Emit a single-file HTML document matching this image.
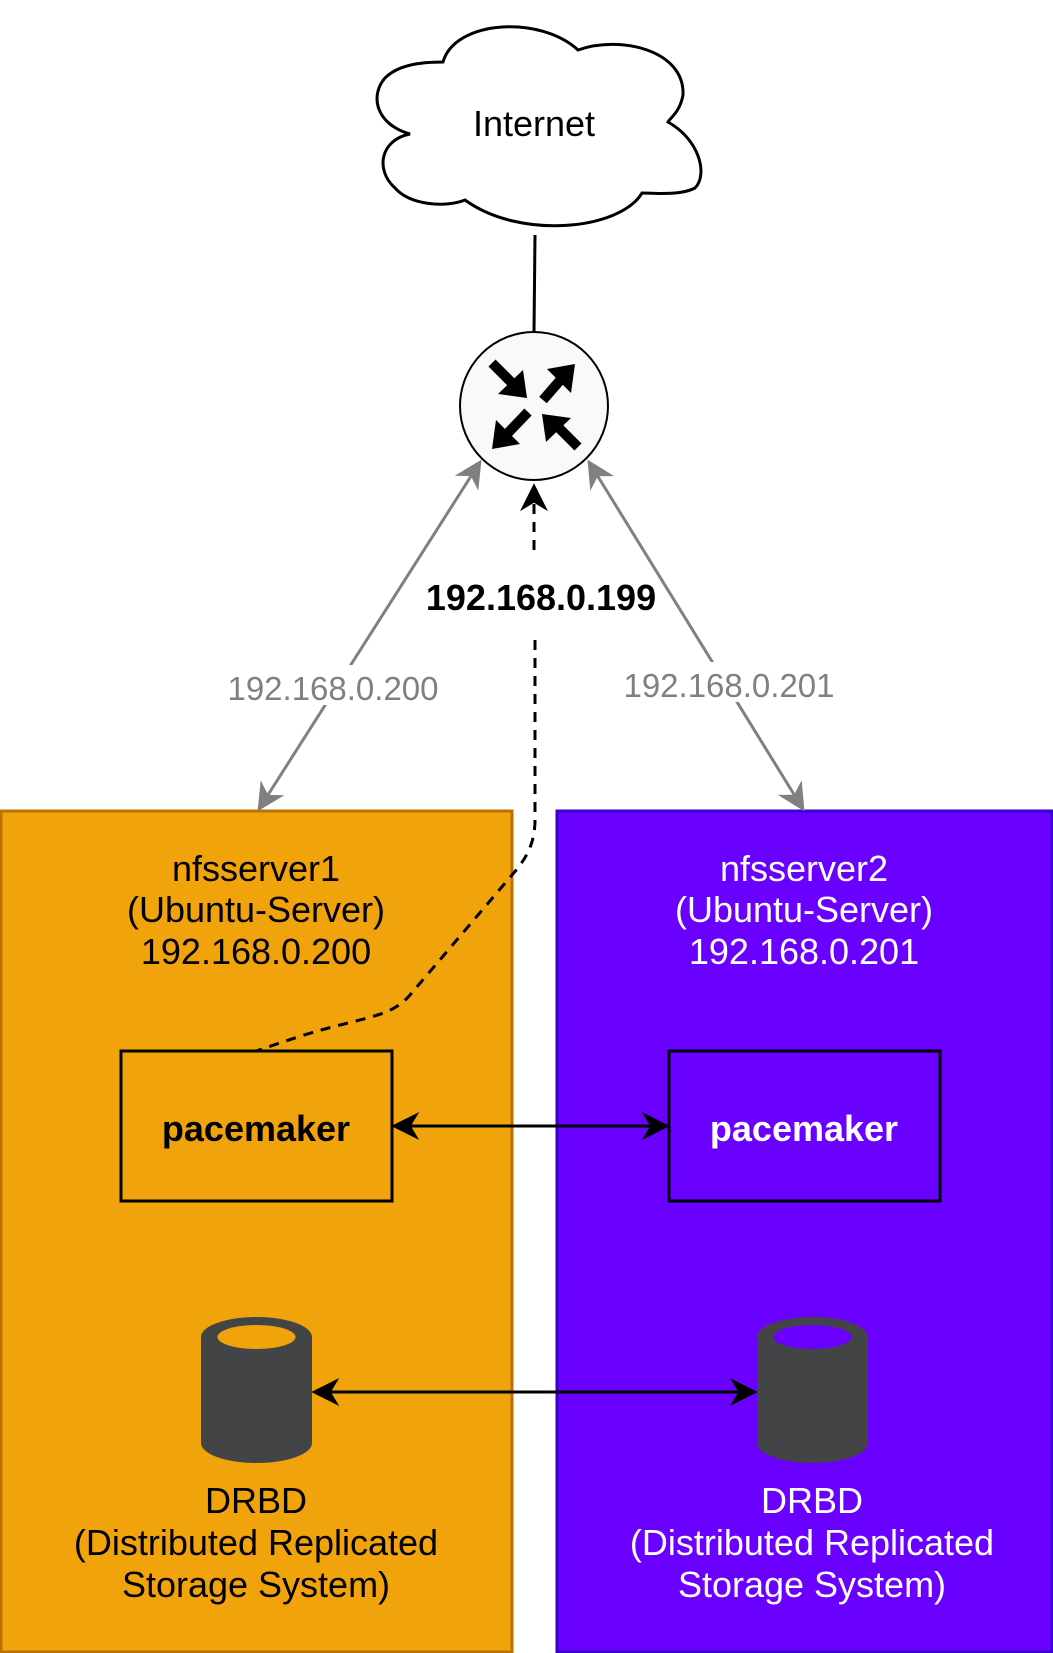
<!DOCTYPE html>
<html><head><meta charset="utf-8"><style>
html,body{margin:0;padding:0;background:#fff;}
svg{display:block;font-family:"Liberation Sans",sans-serif;}
</style></head><body>
<svg width="1053" height="1653" viewBox="0 0 1053 1653" xmlns="http://www.w3.org/2000/svg">
<defs>
<marker id="ag" viewBox="0 0 10 10" refX="9" refY="5" markerWidth="28" markerHeight="28" orient="auto-start-reverse" markerUnits="userSpaceOnUse"><path d="M0,0 L10,5 L0,10 L3,5 Z" fill="#808080"/></marker>
<marker id="ak" viewBox="0 0 10 10" refX="9" refY="5" markerWidth="28" markerHeight="28" orient="auto-start-reverse" markerUnits="userSpaceOnUse"><path d="M0,0 L10,5 L0,10 L3,5 Z" fill="#000"/></marker>
</defs>
<!-- cloud -->
<path d="M443,62 C455,20 540,15 578,50 C620,35 685,50 683,95 C680,112 670,118 668,122 C700,140 708,175 695,188 C680,196 650,193 642,193 C620,230 520,240 465,200 C445,208 410,205 395,188 C375,170 380,140 410,134 C375,124 370,95 385,78 C398,65 420,62 443,62 Z" fill="#fff" stroke="#000" stroke-width="3"/>
<text x="534" y="136" font-size="36" text-anchor="middle">Internet</text>
<line x1="535" y1="235" x2="534" y2="332" stroke="#000" stroke-width="3"/>
<!-- router -->
<circle cx="534" cy="406" r="74" fill="#f9f9f9" stroke="#000" stroke-width="2"/>
<g stroke="#000" stroke-width="10" fill="none">
<line x1="492" y1="363" x2="515" y2="386"/>
<line x1="543" y1="400" x2="563" y2="377"/>
<line x1="528" y1="412" x2="505" y2="436"/>
<line x1="578" y1="447" x2="555" y2="424"/>
</g>
<g fill="#000">
<path d="M527,398 L498,394 L523,370 Z"/>
<path d="M575,364 L571,393 L547,369 Z"/>
<path d="M492,449 L496,420 L520,444 Z"/>
<path d="M542,414 L571,418 L546,442 Z"/>
</g>
<!-- boxes -->
<rect x="1" y="811" width="511" height="841" fill="#F0A30A" stroke="#BD7000" stroke-width="3"/>
<rect x="557" y="811" width="495" height="841" fill="#6A00FF" stroke="#3700CC" stroke-width="3"/>
<g font-size="36" text-anchor="middle">
<text x="256" y="881">nfsserver1</text>
<text x="256" y="922">(Ubuntu-Server)</text>
<text x="256" y="964">192.168.0.200</text>
<g fill="#fff">
<text x="804" y="881">nfsserver2</text>
<text x="804" y="922">(Ubuntu-Server)</text>
<text x="804" y="964">192.168.0.201</text>
</g>
</g>
<!-- pacemaker -->
<rect x="121" y="1051" width="271" height="150" fill="none" stroke="#000" stroke-width="3"/>
<rect x="669" y="1051" width="271" height="150" fill="none" stroke="#000" stroke-width="3"/>
<text x="256" y="1141" font-size="36" font-weight="bold" text-anchor="middle">pacemaker</text>
<text x="804" y="1141" font-size="36" font-weight="bold" text-anchor="middle" fill="#fff">pacemaker</text>
<line x1="394" y1="1126" x2="667" y2="1126" stroke="#000" stroke-width="3" marker-start="url(#ak)" marker-end="url(#ak)"/>
<!-- cylinders -->
<g>
<path d="M201,1337 A55.5,20 0 0 1 312,1337 L312,1443 A55.5,20 0 0 1 201,1443 Z" fill="#434445"/>
<ellipse cx="256.5" cy="1337" rx="39" ry="12" fill="#F0A30A"/>
<path d="M757,1337 A55.5,20 0 0 1 868,1337 L868,1443 A55.5,20 0 0 1 757,1443 Z" fill="#434445"/>
<ellipse cx="812.5" cy="1337" rx="39" ry="12" fill="#6A00FF"/>
</g>
<line x1="314" y1="1392" x2="755" y2="1392" stroke="#000" stroke-width="3" marker-start="url(#ak)" marker-end="url(#ak)"/>
<g font-size="36" text-anchor="middle">
<text x="256" y="1513">DRBD</text>
<text x="256" y="1555">(Distributed Replicated</text>
<text x="256" y="1597">Storage System)</text>
<g fill="#fff">
<text x="812" y="1513">DRBD</text>
<text x="812" y="1555">(Distributed Replicated</text>
<text x="812" y="1597">Storage System)</text>
</g>
</g>
<!-- gray links -->
<line x1="480" y1="462" x2="259" y2="809" stroke="#808080" stroke-width="3" marker-start="url(#ag)" marker-end="url(#ag)"/>
<line x1="589" y1="462" x2="803" y2="809" stroke="#808080" stroke-width="3" marker-start="url(#ag)" marker-end="url(#ag)"/>
<rect x="225" y="665" width="216" height="40" fill="#fff"/>
<rect x="620" y="662" width="218" height="40" fill="#fff"/>
<text x="333" y="700" font-size="33" fill="#808080" text-anchor="middle">192.168.0.200</text>
<text x="729" y="697" font-size="33" fill="#808080" text-anchor="middle">192.168.0.201</text>
<!-- dashed -->
<line x1="534" y1="550" x2="534" y2="486" stroke="#000" stroke-width="3" stroke-dasharray="10,8" marker-end="url(#ak)"/>
<text x="541" y="610" font-size="36" font-weight="bold" text-anchor="middle">192.168.0.199</text>
<path d="M535,640 L535,820 C535,845 525,860 512,875 L410,995 C395,1012 380,1015 340,1025 C300,1035 275,1045 256,1051" fill="none" stroke="#000" stroke-width="3" stroke-dasharray="10,8"/>
</svg>
</body></html>
